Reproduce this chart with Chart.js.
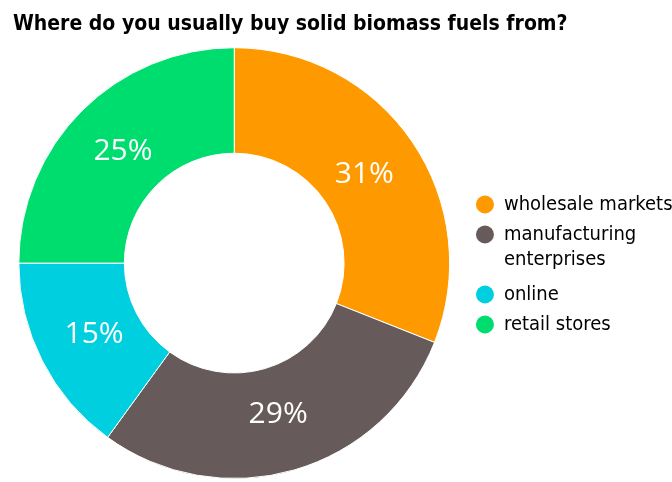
<!DOCTYPE html>
<html><head><meta charset="utf-8">
<script src="https://cdn.jsdelivr.net/npm/chart.js@4/dist/chart.umd.min.js"></script>
<style>html,body{margin:0;padding:0;background:#fff;}</style>
</head><body>
<canvas id="c" width="672" height="482"></canvas>
<script>
const titleText = 'Where do you usually buy solid biomass fuels from?';
const categories = ['wholesale markets', 'manufacturing enterprises', 'online', 'retail stores'];
const values = [31, 29, 15, 25];
const colors = ['#FF9900', '#665B5A', '#00CFE0', '#00DD6F'];

const uiFont = "'DejaVu Sans Condensed', 'DejaVu Sans', sans-serif";

const pctPlugin = {
  id: 'pct',
  afterLayout(chart) {
    const lg = chart.legend;
    if (lg) { lg.left += 10.5; lg.right += 10.5; lg.top += 25; lg.bottom += 25; }
  },
  afterDatasetsDraw(chart) {
    const ctx = chart.ctx;
    const meta = chart.getDatasetMeta(0);
    ctx.save();
    ctx.fillStyle = '#ffffff';
    ctx.font = "30px 'Open Sans', 'DejaVu Sans', sans-serif";
    ctx.textAlign = 'center';
    ctx.textBaseline = 'middle';
    meta.data.forEach((arc, i) => {
      const p = arc.getProps(['x', 'y', 'startAngle', 'endAngle', 'innerRadius', 'outerRadius']);
      const a = (p.startAngle + p.endAngle) / 2;
      const r = p.innerRadius + 0.45 * (p.outerRadius - p.innerRadius);
      ctx.fillText(values[i] + '%', p.x + Math.cos(a) * r, p.y + Math.sin(a) * r);
    });
    ctx.restore();
  }
};

new Chart(document.getElementById('c'), {
  type: 'doughnut',
  data: {
    labels: categories,
    datasets: [{
      data: values,
      backgroundColor: colors,
      borderColor: '#ffffff',
      borderWidth: 1,
      hoverOffset: 0
    }]
  },
  options: {
    responsive: false,
    animation: false,
    cutout: '51%',
    layout: { padding: { left: 13, right: 0, top: 0, bottom: 3 } },
    plugins: {
      title: {
        display: true,
        text: titleText,
        align: 'start',
        color: '#000000',
        font: { family: uiFont, size: 21, weight: 'bold' },
        padding: { top: 12, bottom: 10 }
      },
      legend: {
        position: 'right',
        align: 'center',
        labels: {
          usePointStyle: true,
          pointStyle: 'circle',
          boxHeight: 12.73,
          pointStyleWidth: 18,
          padding: 10,
          color: '#333333',
          font: { family: uiFont, size: 20, lineHeight: 1.25 },
          generateLabels(chart) {
            return categories.map((c, i) => ({
              text: c.length > 18 ? c.split(' ') : c,
              fillStyle: colors[i],
              strokeStyle: colors[i],
              lineWidth: 0,
              pointStyle: 'circle',
              hidden: false,
              index: i
            }));
          }
        }
      },
      tooltip: { enabled: false }
    }
  },
  plugins: [pctPlugin]
});
</script>
</body></html>
